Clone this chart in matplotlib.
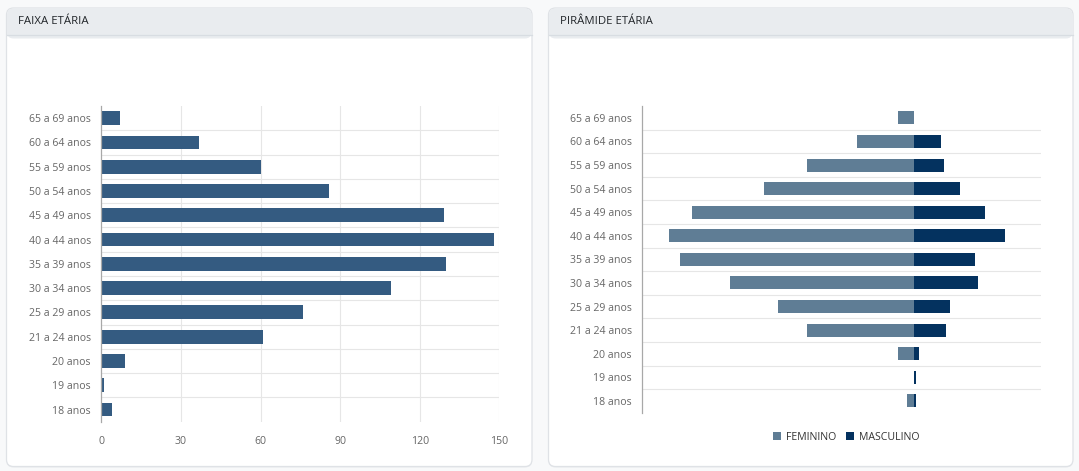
import matplotlib
matplotlib.use("Agg")
import matplotlib.pyplot as plt
from matplotlib.patches import FancyBboxPatch, Rectangle, Patch
import numpy as np

plt.rcParams['font.family'] = ['Open Sans', 'DejaVu Sans']

# ---------------- data ----------------
categories = ["65 a 69 anos", "60 a 64 anos", "55 a 59 anos", "50 a 54 anos",
              "45 a 49 anos", "40 a 44 anos", "35 a 39 anos", "30 a 34 anos",
              "25 a 29 anos", "21 a 24 anos", "20 anos", "19 anos", "18 anos"]
totals = [7, 37, 60, 86, 129, 148, 130, 109, 76, 61, 9, 1, 4]
feminino = [7, 25, 47, 66, 98, 108, 103, 81, 60, 47, 7, 0, 3]
masculino = [0, 12, 13, 20, 31, 40, 27, 28, 16, 14, 2, 1, 1]
x_ticks = [0, 30, 60, 90, 120, 150]
title_left = "FAIXA ETÁRIA"
title_right = "PIRÂMIDE ETÁRIA"
legend_labels = ["FEMININO", "MASCULINO"]

# ---------------- style ----------------
W, H = 1079, 471
BAR_COLOR = "#345b81"
FEM_COLOR = "#5f7d95"
MASC_COLOR = "#04325f"
GRID = "#e6e6e6"
AXIS = "#a8a8a8"
TICK_TXT = "#666666"

fig = plt.figure(figsize=(W / 100, H / 100), dpi=100)
fig.patch.set_facecolor("#f8f9fa")

# background axes in pixel coords for cards
bg = fig.add_axes([0, 0, 1, 1])
bg.set_xlim(0, W)
bg.set_ylim(H, 0)
bg.axis("off")

def card(x0, x1, y0, y1, title):
    # shadow
    bg.add_patch(FancyBboxPatch((x0, y0 + 1), x1 - x0, y1 - y0,
                                boxstyle="round,pad=0,rounding_size=7",
                                fc="#e9ebee", ec="none", zorder=1))
    bg.add_patch(FancyBboxPatch((x0, y0), x1 - x0, y1 - y0,
                                boxstyle="round,pad=0,rounding_size=7",
                                fc="white", ec="#dfe2e6", lw=0.9, zorder=2))
    # header
    hdr = FancyBboxPatch((x0 + 0.5, y0 + 0.5), x1 - x0 - 1, 30,
                         boxstyle="round,pad=0,rounding_size=6.5",
                         fc="#e9ecef", ec="none", zorder=3)
    bg.add_patch(hdr)
    bg.add_patch(Rectangle((x0 + 0.5, y0 + 15), x1 - x0 - 1, 11.5,
                           fc="white", ec="none", zorder=3))
    bg.add_patch(Rectangle((x0 + 0.5, y0 + 10), x1 - x0 - 1, 16.5,
                           fc="#e9ecef", ec="none", zorder=3))
    bg.plot([x0 + 0.5, x1 - 0.5], [y0 + 26.5, y0 + 26.5], color="#d8dde2",
            lw=0.9, zorder=4)
    bg.text(x0 + 12, y0 + 13.5, title, fontsize=8.2, color="#212529",
            va="center", ha="left", zorder=5)

card(6.5, 532, 8, 466.5, title_left)
card(548.5, 1073, 8, 466.5, title_right)

n = len(categories)
ypos = np.arange(n)[::-1]  # top category first


def fig_rect(x0, x1, y0, y1):
    return [x0 / W, 1 - y1 / H, (x1 - x0) / W, (y1 - y0) / H]

# ---------------- left chart ----------------
ax1 = fig.add_axes(fig_rect(101.3, 499.3, 106, 421.7))
ax1.set_facecolor("none")
ax1.barh(ypos, totals, height=0.57, color=BAR_COLOR, zorder=3)
ax1.set_xlim(0, 150)
ax1.set_ylim(-0.5, n - 0.5)
ax1.set_yticks(ypos)
ax1.set_yticklabels(categories)
ax1.set_xticks(x_ticks)
ax1.set_xticklabels([str(t) for t in x_ticks])
ax1.tick_params(axis="both", length=0, labelsize=7.6, labelcolor=TICK_TXT)
ax1.tick_params(axis="y", pad=7.5)
ax1.tick_params(axis="x", pad=10)
for s in ["top", "right", "bottom"]:
    ax1.spines[s].set_visible(False)
ax1.spines["left"].set_color(AXIS)
ax1.spines["left"].set_linewidth(0.9)
ax1.spines["left"].set_zorder(4)
for t in x_ticks[1:]:
    ax1.axvline(t, color=GRID, lw=0.8, zorder=1)
for k in range(n - 1):
    ax1.axhline(k + 0.5, color=GRID, lw=0.8, zorder=1)

# ---------------- right chart (pyramid) ----------------
ax2 = fig.add_axes(fig_rect(642.4, 1040.6, 106.1, 412.7))
ax2.set_facecolor("none")
ax2.barh(ypos, [-v for v in feminino], height=0.55, color=FEM_COLOR, zorder=3)
ax2.barh(ypos, masculino, height=0.55, color=MASC_COLOR, zorder=3)
ax2.set_xlim(-119.7, 55.7)
ax2.set_ylim(-0.5, n - 0.5)
ax2.set_yticks(ypos)
ax2.set_yticklabels(categories)
ax2.set_xticks([])
ax2.tick_params(axis="y", length=0, labelsize=7.6, labelcolor=TICK_TXT, pad=7.5)
for s in ["top", "right", "bottom"]:
    ax2.spines[s].set_visible(False)
ax2.spines["left"].set_color(AXIS)
ax2.spines["left"].set_linewidth(0.9)
for k in range(n - 1):
    ax2.axhline(k + 0.5, color=GRID, lw=0.8, zorder=1)

handles = [Patch(facecolor=FEM_COLOR, edgecolor="none"),
           Patch(facecolor=MASC_COLOR, edgecolor="none")]
leg = fig.legend(handles, legend_labels, loc="center",
                 bbox_to_anchor=(846 / W, 1 - 437 / H), ncol=2, frameon=False,
                 fontsize=7.6, handlelength=0.75, handleheight=0.75,
                 handletextpad=0.5, columnspacing=0.9)
for t in leg.get_texts():
    t.set_color("#333333")

fig.savefig("out.png", dpi=100, facecolor=fig.get_facecolor())
